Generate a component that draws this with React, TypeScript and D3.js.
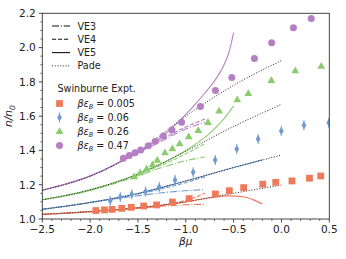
import React from "react";
import * as d3 from "d3";

type Pt = [number, number];

// Swinburne experiment points (beta*mu, n/n0)
const sq005: Pt[] = [[-1.94, 1.049], [-1.85, 1.053], [-1.77, 1.056], [-1.67, 1.062], [-1.57, 1.068], [-1.44, 1.076], [-1.305, 1.082], [-1.14, 1.099], [-0.965, 1.119], [-0.69, 1.146], [-0.545, 1.165], [-0.395, 1.183], [-0.195, 1.203], [-0.06, 1.214], [0.11, 1.222], [0.293, 1.238], [0.41, 1.251]];
const dia006: Pt[] = [[-1.79, 1.106], [-1.685, 1.128], [-1.565, 1.144], [-1.42, 1.16], [-1.278, 1.187], [-1.113, 1.228], [-0.923, 1.273], [-0.693, 1.344], [-0.467, 1.408], [-0.244, 1.466], [-0.002, 1.514], [0.235, 1.547], [0.495, 1.562]];
const tri026: Pt[] = [[-1.54, 1.247], [-1.476, 1.27], [-1.41, 1.293], [-1.348, 1.317], [-1.298, 1.343], [-1.218, 1.387], [-1.14, 1.41], [-1.065, 1.44], [-0.97, 1.48], [-0.87, 1.517], [-0.768, 1.564], [-0.652, 1.63], [-0.462, 1.696], [-0.347, 1.732], [-0.106, 1.809], [0.144, 1.865], [0.416, 1.892]];
const cir047: Pt[] = [[-1.653, 1.354], [-1.591, 1.37], [-1.531, 1.387], [-1.472, 1.403], [-1.392, 1.428], [-1.319, 1.453], [-1.235, 1.484], [-1.145, 1.519], [-1.044, 1.564], [-0.847, 1.657], [-0.69, 1.75], [-0.519, 1.825], [-0.283, 1.937], [-0.103, 2.028], [0.125, 2.115], [0.311, 2.17]];

// Virial expansion (VE3/VE4/VE5) and Pade curves
const ve3_005: Pt[] = [[-2.5, 1.027], [-2.0, 1.042], [-1.5, 1.062], [-1.25, 1.074], [-1.0, 1.083], [-0.8, 1.086]];
const ve4_005: Pt[] = [[-2.5, 1.027], [-2.0, 1.043], [-1.5, 1.066], [-1.25, 1.082], [-1.0, 1.11], [-0.9, 1.127], [-0.8, 1.152]];
const ve5_005: Pt[] = [[-2.5, 1.027], [-2.0, 1.043], [-1.5, 1.066], [-1.25, 1.08], [-1.0, 1.1], [-0.75, 1.124], [-0.55, 1.135], [-0.4, 1.13], [-0.3, 1.113], [-0.2, 1.087]];
const pade_005: Pt[] = [[-2.5, 1.027], [-2.0, 1.043], [-1.5, 1.066], [-1.0, 1.1], [-0.5, 1.15], [0.0, 1.198]];

const ve3_006: Pt[] = [[-2.5, 1.056], [-2.0, 1.097], [-1.75, 1.117], [-1.5, 1.136], [-1.25, 1.153], [-1.0, 1.165], [-0.8, 1.171]];
const ve4_006: Pt[] = [[-2.5, 1.056], [-2.0, 1.096], [-1.5, 1.146], [-1.25, 1.176], [-1.0, 1.212], [-0.8, 1.246]];
const ve5_006: Pt[] = [[-2.5, 1.056], [-2.0, 1.096], [-1.5, 1.149], [-1.0, 1.222], [-0.5, 1.3], [-0.2, 1.345]];
const pade_006: Pt[] = [[-2.5, 1.056], [-2.0, 1.096], [-1.5, 1.149], [-1.0, 1.222], [-0.5, 1.3], [0.0, 1.373]];

const ve3_026: Pt[] = [[-2.5, 1.112], [-2.0, 1.166], [-1.5, 1.252], [-1.25, 1.3], [-1.0, 1.34], [-0.8, 1.362]];
const ve4_026: Pt[] = [[-2.5, 1.112], [-2.0, 1.168], [-1.5, 1.258], [-1.25, 1.315], [-1.0, 1.38], [-0.8, 1.44]];
const ve5_026: Pt[] = [[-2.5, 1.112], [-2.0, 1.17], [-1.5, 1.262], [-1.0, 1.4], [-0.75, 1.5], [-0.6, 1.585], [-0.5, 1.66]];
const pade_026: Pt[] = [[-2.5, 1.112], [-2.0, 1.17], [-1.5, 1.262], [-1.0, 1.395], [-0.5, 1.54], [0.0, 1.669]];

const ve3_047: Pt[] = [[-2.5, 1.168], [-2.0, 1.25], [-1.5, 1.385], [-1.25, 1.455], [-1.0, 1.525], [-0.8, 1.565]];
const ve4_047: Pt[] = [[-2.5, 1.168], [-2.0, 1.25], [-1.5, 1.388], [-1.25, 1.465], [-1.0, 1.537], [-0.8, 1.583]];
const ve5_047: Pt[] = [[-2.5, 1.168], [-2.0, 1.252], [-1.5, 1.393], [-1.25, 1.48], [-1.0, 1.61], [-0.9, 1.67], [-0.8, 1.735], [-0.7, 1.805], [-0.6, 1.9], [-0.55, 1.97], [-0.5, 2.088]];
const pade_047: Pt[] = [[-2.5, 1.168], [-2.0, 1.25], [-1.5, 1.393], [-1.0, 1.6], [-0.5, 1.78], [0.0, 1.924]];

const xTicks = [-2.5, -2.0, -1.5, -1.0, -0.5, 0.0, 0.5];
const yTicks = [1.0, 1.2, 1.4, 1.6, 1.8, 2.0, 2.2];
const lineLabels = ["VE3", "VE4", "VE5", "Pade"];
const exptLabels = ["0.005", "0.06", "0.26", "0.47"];

const ORANGE = "#ef7a5a";
const BLUE = "#6f9bd1";
const GREEN = "#8bcb70";
const PURPLE = "#b57fc4";

const DASHDOT = "7,1.8,1.1,1.8";
const DASHED = "4.2,1.8";
const DOTTED = "1.1,1.6";

const W = 346, H = 259;
const L = 42.3, R = 329.3, T = 13.3, B = 219;
const FONT = "DejaVu Sans, sans-serif";

const x = d3.scaleLinear().domain([-2.5, 0.5]).range([L, R]);
const y = d3.scaleLinear().domain([1.0, 2.2]).range([B, T]);
const line = d3.line<Pt>().x(d => x(d[0])).y(d => y(d[1])).curve(d3.curveMonotoneX);

const fmt = (v: number) => (v < 0 ? "\u2212" : "") + Math.abs(v).toFixed(1);

type Marker = "square" | "diamond" | "triangle" | "circle";

const MarkerShape = ({ kind, cx, cy, color }: { kind: Marker; cx: number; cy: number; color: string }) => {
    if (kind === "square") return <rect x={cx - 3.4} y={cy - 3.4} width={6.8} height={6.8} fill={color} />;
    if (kind === "circle") return <circle cx={cx} cy={cy} r={3.5} fill={color} />;
    if (kind === "triangle") return <path d={`M${cx},${cy - 4.2}L${cx + 3.9},${cy + 2.6}L${cx - 3.9},${cy + 2.6}Z`} fill={color} />;
    return <g>
        <line x1={cx} x2={cx} y1={cy - 5} y2={cy + 5} stroke={color} strokeWidth={1} />
        <path d={`M${cx},${cy - 4}L${cx + 2.4},${cy}L${cx},${cy + 4}L${cx - 2.4},${cy}Z`} fill={color} />
    </g>;
};

const series = [
    { color: ORANGE, marker: "square" as Marker, pts: sq005, ve3: ve3_005, ve4: ve4_005, ve5: ve5_005, pade: pade_005 },
    { color: BLUE, marker: "diamond" as Marker, pts: dia006, ve3: ve3_006, ve4: ve4_006, ve5: ve5_006, pade: pade_006 },
    { color: GREEN, marker: "triangle" as Marker, pts: tri026, ve3: ve3_026, ve4: ve4_026, ve5: ve5_026, pade: pade_026 },
    { color: PURPLE, marker: "circle" as Marker, pts: cir047, ve3: ve3_047, ve4: ve4_047, ve5: ve5_047, pade: pade_047 },
];

export default function App() {
    const xMinor = d3.range(-2.5, 0.5001, 0.1).filter(v => !xTicks.some(t => Math.abs(t - v) < 1e-6));
    const yMinor = d3.range(1.0, 2.2001, 0.05).filter(v => !yTicks.some(t => Math.abs(t - v) < 1e-6));
    const lineDash = [DASHDOT, DASHED, undefined, DOTTED];

    return (
        <svg width={W} height={H} style={{ position: "absolute", left: 0, top: 0, background: "#fff" }} fontFamily={FONT}>
            <defs>
                <clipPath id="plot"><rect x={L} y={T} width={R - L} height={B - T} /></clipPath>
            </defs>

            {/* curves */}
            <g clipPath="url(#plot)" fill="none">
                {series.map((s, i) => (
                    <g key={i}>
                        <path d={line(s.ve3) ?? ""} stroke={s.color} strokeWidth={1.1} strokeDasharray={DASHDOT} />
                        <path d={line(s.ve4) ?? ""} stroke={s.color} strokeWidth={1.1} strokeDasharray={DASHED} />
                        <path d={line(s.ve5) ?? ""} stroke={s.color} strokeWidth={1.1} />
                        <path d={line(s.pade) ?? ""} stroke="#222" strokeWidth={0.9} strokeDasharray={DOTTED} />
                    </g>
                ))}
            </g>

            {/* experiment markers */}
            <g clipPath="url(#plot)">
                {series.map((s, i) => (
                    <g key={i}>
                        {s.pts.map((p, j) => <MarkerShape key={j} kind={s.marker} cx={x(p[0])} cy={y(p[1])} color={s.color} />)}
                    </g>
                ))}
            </g>

            {/* frame */}
            <rect x={L} y={T} width={R - L} height={B - T} fill="none" stroke="#333" strokeWidth={0.9} />

            {/* x axis */}
            {xTicks.map(t => (
                <g key={t}>
                    <line x1={x(t)} x2={x(t)} y1={B} y2={B + 3.5} stroke="#333" strokeWidth={0.9} />
                    <text x={x(t)} y={B + 14} fontSize={10.5} textAnchor="middle" fill="#222">{fmt(t)}</text>
                </g>
            ))}
            {xMinor.map(t => <line key={t} x1={x(t)} x2={x(t)} y1={B} y2={B + 2} stroke="#333" strokeWidth={0.7} />)}

            {/* y axis */}
            {yTicks.map(t => (
                <g key={t}>
                    <line x1={L - 3.5} x2={L} y1={y(t)} y2={y(t)} stroke="#333" strokeWidth={0.9} />
                    <text x={L - 6.5} y={y(t) + 3.8} fontSize={10.5} textAnchor="end" fill="#222">{t.toFixed(1)}</text>
                </g>
            ))}
            {yMinor.map(t => <line key={t} x1={L - 2} x2={L} y1={y(t)} y2={y(t)} stroke="#333" strokeWidth={0.7} />)}

            {/* axis labels */}
            <text x={(L + R) / 2} y={245} fontSize={10.5} textAnchor="middle" fontStyle="italic" fill="#222">βμ</text>
            <text transform={`translate(12,${(T + B) / 2}) rotate(-90)`} fontSize={10.5} textAnchor="middle" fontStyle="italic" fill="#222">
                n/n<tspan fontSize={7.5} dy={2.5}>0</tspan>
            </text>

            {/* legend: theory lines */}
            {lineLabels.map((lab, i) => (
                <g key={lab}>
                    <line x1={52} x2={70} y1={26 + i * 13.3} y2={26 + i * 13.3} stroke={i === 3 ? "#222" : "#111"} strokeWidth={i === 3 ? 0.9 : 1.1} strokeDasharray={lineDash[i]} />
                    <text x={77.5} y={26 + i * 13.3 + 3.5} fontSize={9.6} fill="#222">{lab}</text>
                </g>
            ))}
            <text x={57.5} y={91.5} fontSize={9.6} fill="#222">Swinburne Expt.</text>
            {series.map((s, i) => {
                const cy = 103.5 + i * 14;
                return (
                    <g key={i}>
                        <MarkerShape kind={s.marker} cx={59.5} cy={cy} color={s.color} />
                        <text x={77.5} y={cy + 3.5} fontSize={9.6} fill="#222">
                            <tspan fontStyle="italic">βε</tspan><tspan fontStyle="italic" fontSize={6.5} dy={2}>B</tspan><tspan dy={-2}> = {exptLabels[i]}</tspan>
                        </text>
                    </g>
                );
            })}
        </svg>
    );
}
